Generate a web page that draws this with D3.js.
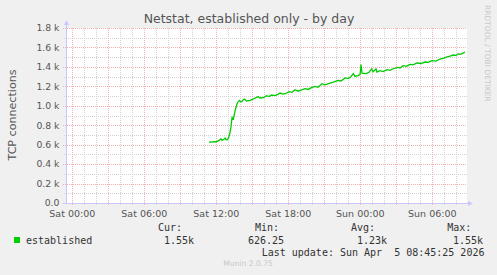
<!DOCTYPE html>
<html>
<head>
<meta charset="utf-8">
<script src="https://cdn.jsdelivr.net/npm/d3@7"></script>
<style>
  body { margin: 0; background: #f0f0f0; }
  svg { display: block; font-family: "DejaVu Sans", sans-serif; }
  .mono { font-family: "DejaVu Sans Mono", monospace; font-size: 10px; fill: #333; }
</style>
</head>
<body>
<svg width="497" height="275"></svg>
<script>
// hours after Sat 00:00 and the established count
const hours = [11.39, 11.98, 12.23, 12.39, 12.48, 12.64, 12.73, 12.81, 12.92, 13.02,
  13.14, 13.23, 13.31, 13.42, 13.56, 13.64, 13.75, 13.92, 14.02, 14.12,
  14.23, 14.33, 14.53, 14.81, 15.08, 15.37, 15.5, 15.64, 15.92, 16.2,
  16.39, 16.62, 16.89, 17.14, 17.31, 17.56, 17.73, 18.08, 18.31, 18.56,
  18.81, 19.06, 19.39, 19.64, 19.98, 20.23, 20.48, 20.81, 21.06, 21.48,
  21.81, 22.14, 22.39, 22.73, 22.98, 23.14, 23.42, 23.56, 23.81, 23.98,
  24.06, 24.14, 24.48, 24.73, 24.95, 25.06, 25.31, 25.39, 25.64, 25.89,
  26.23, 26.48, 26.73, 27.14, 27.31, 27.56, 27.81, 28.14, 28.39, 28.73,
  29.06, 29.39, 29.64, 29.98, 30.31, 30.64, 30.98, 31.23, 31.48, 31.73,
  31.98, 32.14, 32.31, 32.48, 32.73]
const established = [626, 630, 644, 661, 645, 655, 668, 650, 651, 670,
  723, 790, 877, 864, 942, 985, 1029, 1055, 1040, 1042,
  1060, 1070, 1049, 1055, 1070, 1086, 1096, 1080, 1083, 1104,
  1095, 1111, 1105, 1118, 1131, 1120, 1124, 1145, 1138, 1165,
  1150, 1160, 1176, 1168, 1190, 1200, 1190, 1227, 1215, 1234,
  1245, 1261, 1255, 1286, 1280, 1289, 1330, 1302, 1310, 1320,
  1423, 1335, 1330, 1345, 1378, 1350, 1378, 1347, 1361, 1352,
  1371, 1365, 1381, 1395, 1388, 1412, 1405, 1426, 1420, 1440,
  1435, 1450, 1447, 1464, 1460, 1481, 1490, 1502, 1510, 1522,
  1518, 1533, 1530, 1536, 1553]

const yMajor = [0, 200, 400, 600, 800, 1000, 1200, 1400, 1600, 1800]
const yMinor = [100, 300, 500, 700, 900, 1100, 1300, 1500, 1700]
const yLabels = ["0.0", "0.2 k", "0.4 k", "0.6 k", "0.8 k", "1.0 k", "1.2 k", "1.4 k", "1.6 k", "1.8 k"]
const legendHeads = ["Cur:", "Min:", "Avg:", "Max:"]
const legendValues = ["1.55k", "626.25", "1.23k", "1.55k"]

const t0 = Date.UTC(2026, 3, 4) // Sat 00:00
const hr = 3600e3

const pLeft = 67, pTop = 28, pW = 400, pH = 175
const svg = d3.select('svg')

const x = d3.scaleUtc()
    .domain([new Date(t0 - 0.4417 * hr), new Date(t0 + 32.89 * hr)])
    .range([pLeft, pLeft + pW])
const y = d3.scaleLinear().domain([0, 1800]).range([pTop + pH, pTop])
const px = v => Math.round(v) + 0.5

svg.append('rect')
    .attr('x', pLeft).attr('y', pTop)
    .attr('width', pW).attr('height', pH)
    .attr('fill', '#fff')

const hourTicks = x.ticks(d3.utcHour.every(1))
const g = svg.append('g').attr('fill', 'none').attr('stroke-width', 1)
const minorColor = '#d2d2d2', majorColor = '#f2b0b0'

// minor grid
g.selectAll('.vmin')
    .data(hourTicks.filter(d => d.getUTCHours() % 3 != 0))
    .join('line')
    .attr('x1', d => px(x(d))).attr('x2', d => px(x(d)))
    .attr('y1', pTop).attr('y2', pTop + pH + 2)
    .attr('stroke', minorColor).attr('stroke-dasharray', '1,1')
g.selectAll('.hmin')
    .data(yMinor)
    .join('line')
    .attr('x1', pLeft - 3).attr('x2', pLeft + pW)
    .attr('y1', d => px(y(d))).attr('y2', d => px(y(d)))
    .attr('stroke', minorColor).attr('stroke-dasharray', '1,1')

// major grid
g.selectAll('.vmaj')
    .data(hourTicks.filter(d => d.getUTCHours() % 3 == 0))
    .join('line')
    .attr('x1', d => px(x(d))).attr('x2', d => px(x(d)))
    .attr('y1', pTop).attr('y2', pTop + pH + 3)
    .attr('stroke', majorColor).attr('stroke-dasharray', '1,1')
g.selectAll('.hmaj')
    .data(yMajor)
    .join('line')
    .attr('x1', pLeft - 4).attr('x2', pLeft + pW)
    .attr('y1', d => px(y(d))).attr('y2', d => px(y(d)))
    .attr('stroke', majorColor).attr('stroke-dasharray', '1,1')

// axes with arrows
const axisColor = '#c8c8ff'
g.append('line')
    .attr('x1', pLeft - 0.5).attr('x2', pLeft - 0.5)
    .attr('y1', pTop + pH + 1).attr('y2', pTop - 4)
    .attr('stroke', axisColor)
g.append('line')
    .attr('x1', pLeft - 3).attr('x2', pLeft + pW + 2)
    .attr('y1', pTop + pH + 0.5).attr('y2', pTop + pH + 0.5)
    .attr('stroke', axisColor)
svg.append('path')
    .attr('d', `M${pLeft - 3},${pTop - 3}L${pLeft + 2},${pTop - 3}L${pLeft - 0.5},${pTop - 8}Z`)
    .attr('fill', axisColor)
svg.append('path')
    .attr('d', `M${pLeft + pW + 1},${pTop + pH - 2}L${pLeft + pW + 1},${pTop + pH + 3}L${pLeft + pW + 6},${pTop + pH + 0.5}Z`)
    .attr('fill', axisColor)

// tick labels
svg.append('g')
    .selectAll('text')
    .data(yMajor)
    .join('text')
    .attr('x', 59.5).attr('y', d => y(d) + 3.3)
    .attr('text-anchor', 'end')
    .attr('font-size', 9.3).attr('fill', '#555')
    .text((d, i) => yLabels[i])

const fmt = d3.utcFormat('%a %H:%M')
svg.append('g')
    .selectAll('text')
    .data(x.ticks(d3.utcHour.every(6)))
    .join('text')
    .attr('x', d => x(d)).attr('y', 216.5)
    .attr('text-anchor', 'middle')
    .attr('font-size', 9.5).attr('fill', '#555')
    .text(d => fmt(d))

// data line
const line = d3.line()
    .x((d, i) => x(new Date(t0 + hours[i] * hr)))
    .y(d => y(d))
svg.append('path')
    .datum(established)
    .attr('d', line)
    .attr('fill', 'none')
    .attr('stroke', '#00cc00')
    .attr('stroke-width', 1.3)

// titles
svg.append('text')
    .attr('x', 249).attr('y', 22.5)
    .attr('text-anchor', 'middle')
    .attr('font-size', 12.5).attr('fill', '#555')
    .text('Netstat, established only - by day')

svg.append('text')
    .attr('transform', 'translate(15.5,115) rotate(-90)')
    .attr('text-anchor', 'middle')
    .attr('font-size', 11.1).attr('fill', '#555')
    .text('TCP connections')

svg.append('text')
    .attr('transform', 'translate(484.5,5) rotate(90)')
    .attr('font-size', 7.5).attr('fill', '#c8c8c8')
    .text('RRDTOOL / TOBI OETIKER')

// legend
svg.append('rect')
    .attr('x', 14).attr('y', 237).attr('width', 6).attr('height', 6)
    .attr('fill', '#00cc00')
svg.append('text').attr('class', 'mono')
    .attr('x', 26).attr('y', 243.5)
    .text('established')

const headX = [158, 255, 351, 447.3]
const valX = [164, 248, 357, 453]
svg.append('g').selectAll('text')
    .data(legendHeads)
    .join('text').attr('class', 'mono')
    .attr('x', (d, i) => headX[i]).attr('y', 230.5)
    .text(d => d)
svg.append('g').selectAll('text')
    .data(legendValues)
    .join('text').attr('class', 'mono')
    .attr('x', (d, i) => valX[i]).attr('y', 243.5)
    .text(d => d)

svg.append('text').attr('class', 'mono')
    .attr('x', 261.7).attr('y', 256)
    .style('white-space', 'pre')
    .text('Last update: Sun Apr  5 08:45:25 2026')

svg.append('text')
    .attr('x', 248).attr('y', 266)
    .attr('text-anchor', 'middle')
    .attr('font-size', 7.6).attr('fill', '#c8c8c8')
    .text('Munin 2.0.75')
</script>
</body>
</html>
